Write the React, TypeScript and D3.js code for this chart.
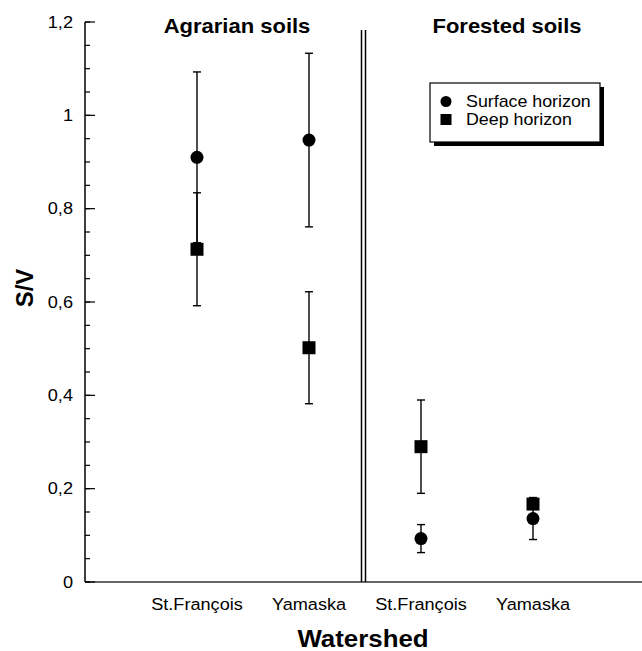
import React from "react";
import * as d3 from "d3";

const categories = ["Agrarian St.François", "Agrarian Yamaska", "Forested St.François", "Forested Yamaska"];
const categoryLabels = ["St.François", "Yamaska", "St.François", "Yamaska"];
const surfaceValues = [0.91, 0.947, 0.093, 0.136];
const surfaceErrors = [0.183, 0.186, 0.03, 0.045];
const deepValues = [0.713, 0.502, 0.29, 0.167];
const deepErrors = [0.121, 0.12, 0.1, 0.0];
const majorTicks = [0, 0.2, 0.4, 0.6, 0.8, 1, 1.2];
const minorTicks = d3.range(0, 1.2001, 0.05);
const groupTitles = ["Agrarian soils", "Forested soils"];
const legendLabels = ["Surface horizon", "Deep horizon"];

const W = 642, H = 651;
const left = 85, right = 645, top = 22, bottom = 582;
const FONT = "Arial, 'Liberation Sans', Helvetica, sans-serif";
const SX = 1.1;

function T(props: { x: number; y: number; size: number; anchor?: string; bold?: boolean; children: any; dy?: string }) {
  return (
    <text
      transform={`translate(${props.x},${props.y}) scale(${SX},1)`}
      textAnchor={props.anchor || "start"}
      fontSize={props.size}
      fontWeight={props.bold ? "bold" : "normal"}
      dy={props.dy}
    >
      {props.children}
    </text>
  );
}

export default function App() {
  const x = d3.scalePoint<string>().domain(categories).range([left, right]).padding(1);
  const y = d3.scaleLinear().domain([0, 1.2]).range([bottom, top]);
  const fmt = (v: number) => (Math.round(v * 10) / 10).toString().replace(".", ",");
  const divX = (x(categories[1])! + x(categories[2])!) / 2 - 1.5;

  const errBar = (cx: number, v: number, e: number, key: string) => {
    if (e <= 0) return null;
    return (
      <g key={key} stroke="#000" strokeWidth={1.4}>
        <line x1={cx} x2={cx} y1={y(v + e)} y2={y(v - e)} />
        <line x1={cx - 4} x2={cx + 4} y1={y(v + e)} y2={y(v + e)} />
        <line x1={cx - 4} x2={cx + 4} y1={y(v - e)} y2={y(v - e)} />
      </g>
    );
  };

  return (
    <svg width={W} height={H} style={{ position: "absolute", left: 0, top: 0, background: "#fff" }} fontFamily={FONT}>
      <rect x={0} y={0} width={W} height={H} fill="#fff" />
      {/* axes */}
      <line x1={left} x2={left} y1={top} y2={bottom} stroke="#000" strokeWidth={1.5} />
      <line x1={left} x2={W} y1={bottom} y2={bottom} stroke="#333" strokeWidth={1.5} />
      {minorTicks.map((t, i) => (
        <line key={"mi" + i} x1={left} x2={left + 5} y1={y(t)} y2={y(t)} stroke="#000" strokeWidth={1.2} />
      ))}
      {majorTicks.map((t, i) => (
        <g key={"ma" + i}>
          <line x1={left} x2={left + 10} y1={y(t)} y2={y(t)} stroke="#000" strokeWidth={1.2} />
          <T x={73} y={y(t)} size={16.5} anchor="end" dy="0.35em">{fmt(t)}</T>
        </g>
      ))}
      {/* divider */}
      <line x1={divX - 2} x2={divX - 2} y1={30} y2={bottom} stroke="#000" strokeWidth={1.5} />
      <line x1={divX + 2} x2={divX + 2} y1={30} y2={bottom} stroke="#000" strokeWidth={1.5} />
      {/* group titles */}
      <T x={(x(categories[0])! + x(categories[1])!) / 2 - 16} y={33} size={20} anchor="middle" bold>{groupTitles[0]}</T>
      <T x={(x(categories[2])! + x(categories[3])!) / 2 + 30} y={33} size={20} anchor="middle" bold>{groupTitles[1]}</T>
      {/* category labels */}
      {categories.map((c, i) => (
        <T key={"cl" + i} x={x(c)!} y={610} size={16.5} anchor="middle">{categoryLabels[i]}</T>
      ))}
      <T x={363} y={647} size={23.5} anchor="middle" bold>Watershed</T>
      <text transform={`translate(33,${y(0.63)}) rotate(-90)`} textAnchor="middle" fontSize={24} fontWeight="bold">S/V</text>
      {/* data */}
      {categories.map((c, i) => errBar(x(c)!, surfaceValues[i], surfaceErrors[i], "se" + i))}
      {categories.map((c, i) => errBar(x(c)!, deepValues[i], deepErrors[i], "de" + i))}
      {categories.map((c, i) => (
        <rect key={"dq" + i} x={x(c)! - 6.5} y={y(deepValues[i]) - 6.5} width={13} height={13} fill="#000" />
      ))}
      {categories.map((c, i) => (
        <circle key={"sc" + i} cx={x(c)} cy={y(surfaceValues[i])} r={6.5} fill="#000" />
      ))}
      {/* legend */}
      <rect x={434} y={87} width={170} height={59} fill="#000" />
      <rect x={430} y={83} width={170} height={59} fill="#fff" stroke="#000" strokeWidth={1.2} />
      <circle cx={446} cy={101.5} r={5.5} fill="#000" />
      <rect x={440.5} y={114} width={11} height={11} fill="#000" />
      <T x={466} y={107} size={16.2}>{legendLabels[0]}</T>
      <T x={466} y={125} size={16.2}>{legendLabels[1]}</T>
    </svg>
  );
}
